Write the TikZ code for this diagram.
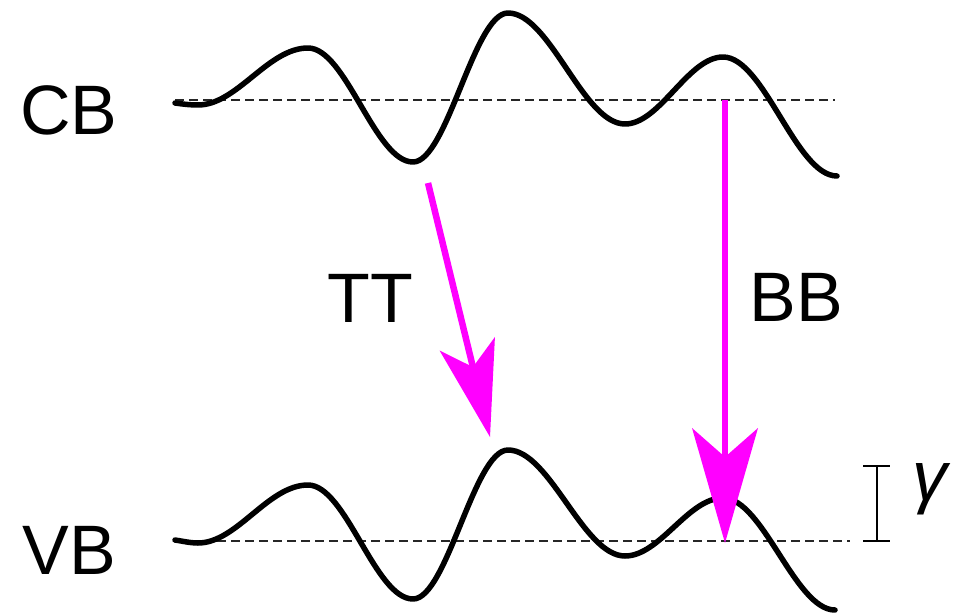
\documentclass[tikz,border=0pt]{standalone}
\usepackage{fontspec}
\setmainfont{Liberation Sans}
\usetikzlibrary{arrows.meta}
\definecolor{mag}{HTML}{FF00FF}
\tikzset{
  wave/.style={line width=5.5pt, line cap=round, line join=round},
  baseline/.style={line width=2.8pt, dash pattern=on 9pt off 5pt, black!85},
  lbl/.style={font=\fontsize{70}{84}\selectfont, inner sep=0pt},
  trans/.style={draw=mag, line width=6.5pt},
  bar/.style={line width=1.5pt}
}
\begin{document}
\begin{tikzpicture}[x=1pt,y=-1pt]
\useasboundingbox (0,0) rectangle (960,615);
% baselines
\coordinate (cbL) at (175,100);
\coordinate (cbR) at (835,100);
\coordinate (vbL) at (175,541);
\coordinate (vbR) at (850,541);
\draw[baseline] (cbL) -- (cbR);
\draw[baseline] (vbL) -- (vbR);
% waves
\draw[wave] (175,103) .. controls (182,104) and (190,105) .. (198,105)
  .. controls (237,105) and (268,48) .. (308,48)
  .. controls (346,48) and (375,162) .. (413,162)
  .. controls (447,162) and (474,13) .. (508,13)
  .. controls (550,13) and (583,124) .. (625,124)
  .. controls (660,124) and (688,57) .. (723,57)
  .. controls (764,57) and (796,176) .. (837,176);
\draw[wave] (175,540) .. controls (182,541) and (190,543) .. (198,543)
  .. controls (237,543) and (268,485) .. (308,485)
  .. controls (346,485) and (375,599) .. (413,599)
  .. controls (447,599) and (474,450) .. (508,450)
  .. controls (550,450) and (583,556) .. (625,556)
  .. controls (660,556) and (688,498) .. (723,498)
  .. controls (763,498) and (795,610) .. (835,610);
% labels
\node[lbl] (cb) at (69,110) {CB};
\node[lbl] (vb) at (69,550) {VB};
\node[lbl] (tt) at (370,298) {TT};
\node[lbl] (bb) at (796,297) {BB};
\node[lbl, anchor=north] (gam) at (930,463) {\itshape γ};
% gamma bracket
\coordinate (gtop) at (877,466);
\coordinate (gbot) at (877,541);
\draw[bar] (gtop) -- (gbot);
\draw[bar] ([xshift=-14pt]gtop) -- ([xshift=13pt]gtop);
\draw[bar] ([xshift=-14pt]gbot) -- ([xshift=13pt]gbot);
% transitions
\coordinate (ttS) at (428,183);
\coordinate (ttE) at (490,437);
\coordinate (bbS) at (725,100);
\coordinate (bbE) at (725,543);
\draw[trans, -{Stealth[length=96pt, width=57pt, inset=24pt, line width=0pt, fill=mag]}] (ttS) -- (ttE);
\draw[trans, -{Stealth[length=115pt, width=66pt, inset=29pt, line width=0pt, fill=mag]}] (bbS) -- (bbE);
\end{tikzpicture}
\end{document}
